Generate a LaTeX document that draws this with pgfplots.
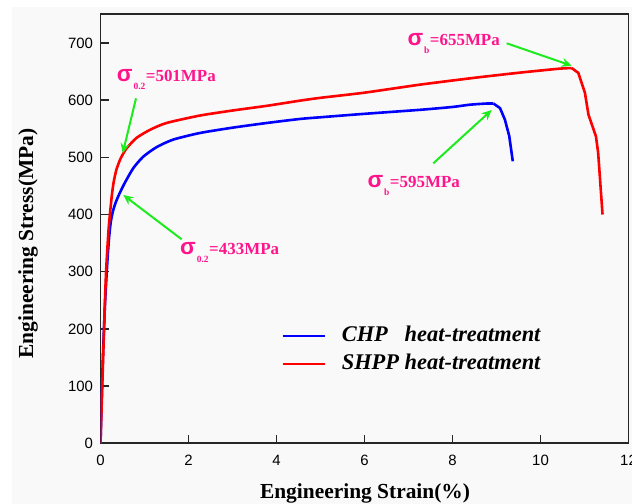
\documentclass[border=0pt]{standalone}
\usepackage{fontspec}
\setmainfont{Liberation Serif}
\newfontfamily\arialfont{Liberation Sans}
\usepackage{calc}
\usepackage{pgfplots}
\pgfplotsset{compat=1.18}
\usetikzlibrary{arrows.meta}
\definecolor{annot}{RGB}{255,20,140}
\definecolor{arr}{RGB}{30,235,30}
\definecolor{bg}{RGB}{249,249,249}
\definecolor{cblue}{RGB}{0,0,255}
\definecolor{cred}{RGB}{255,0,0}
\newcommand\sig[2]{\textcolor{annot}{\bfseries{\arialfont\bfseries\fontsize{23}{23}\selectfont σ}\hspace{1bp}\raisebox{-8bp}{\fontsize{9.5}{9.5}\selectfont #1}\hspace{0.5bp}{\fontsize{17}{17}\selectfont =#2MPa}}}

\pgfplotstableread{
x y
0 0
0.05 140
0.10 240
0.15 310
0.19 355
0.23 385
0.28 405
0.35 422
0.44 438
0.557 456
0.745 481
0.97 501
1.28 518
1.655 531
2.26 542.5
3.02 552
3.78 560
4.53 567
5.0 570
6.0 576
7.26 583
8.0 588
8.40 592
8.78 594
8.93 594
}\chpa
\pgfplotstableread{
x y
8.93 594
9.08 586
9.19 566
9.29 537
9.37 493
}\chpb

\pgfplotstableread{
x y
0 0
0.04 99
0.08 198
0.125 297
0.18 370
0.22 405
0.26 435
0.30 457
0.36 478
0.44 495
0.52 507
0.595 516
0.82 534
1.125 548
1.50 560
2.26 573
3.02 582
3.78 590
4.53 599
5.0 604
6.0 613
7.26 627
8.5 639
9.53 648
10.44 655
10.71 656
}\shppa
\pgfplotstableread{
x y
10.71 656
10.86 647.5
11.01 612.5
11.09 574.5
11.26 536.6
11.31 508
11.41 400
}\shppb

\begin{document}
\begin{tikzpicture}
\useasboundingbox (0,0) rectangle (632bp,504bp);
\fill[bg] (12bp,0) rectangle (632bp,497bp);
\begin{axis}[
  at={(100.5bp,60.7bp)}, anchor=south west,
  scale only axis, width=528bp, height=429bp,
  xmin=0, xmax=12, ymin=0, ymax=750,
  xtick={0,2,...,12}, ytick={0,100,...,700},
  tick pos=left, tick align=inside, major tick length=8bp,
  axis line style={line width=1.6bp, color=black!85},
  every tick/.style={line width=1.4bp, black!85},
  tick label style={font=\arialfont\fontsize{15}{15}\selectfont},
  /pgf/number format/assume math mode=true,
  xticklabel style={yshift=-8bp},
  yticklabel style={xshift=-4bp},
  xlabel={Engineering Strain(\%)},
  ylabel={Engineering Stress(MPa)},
  label style={font=\bfseries\fontsize{21.5}{21.5}\selectfont},
  xlabel style={at={(rel axis cs:0.501,-0.1298)}, anchor=base},
  ylabel style={at={(rel axis cs:-0.1373,0.4657)}, anchor=center},
  legend image code/.code={\draw[#1] (0bp,3.5bp) -- (42bp,3.5bp);},
  legend style={at={(rel axis cs:0.3419,0.2755)}, anchor=north west,
    draw=none, fill=none, inner sep=0pt, column sep=16bp, row sep=0pt,
    font=\bfseries\itshape\fontsize{22.5}{22.5}\selectfont,
    nodes={inner sep=0pt, text height=16bp, text depth=12bp}},
  legend cell align=left,
]
\addplot[cblue, line width=2.6bp, line join=round, smooth, tension=0.4] table[x=x,y=y] {\chpa};
\addlegendentry{\makebox[\widthof{SHPP}][l]{CHP} heat-treatment}
\addplot[cblue, line width=2.6bp, line join=round, forget plot] table[x=x,y=y] {\chpb};
\addplot[cred, line width=2.6bp, line join=round, smooth, tension=0.4] table[x=x,y=y] {\shppa};
\addlegendentry{SHPP heat-treatment}
\addplot[cred, line width=2.6bp, line join=round, forget plot] table[x=x,y=y] {\shppb};

\draw[arr, line width=2bp, -{Stealth[length=10bp,width=9bp]}] (axis cs:0.807,603.1) -- (axis cs:0.505,507.0);
\draw[arr, line width=2bp, -{Stealth[length=10bp,width=9bp]}] (axis cs:1.845,356.6) -- (axis cs:0.518,434.1);
\draw[arr, line width=2bp, -{Stealth[length=10bp,width=9bp]}] (axis cs:9.232,699.3) -- (axis cs:10.709,660.1);
\draw[arr, line width=2bp, -{Stealth[length=10bp,width=9bp]}] (axis cs:7.564,489.5) -- (axis cs:8.891,582.7);

\node[anchor=base west, inner sep=0pt] at (axis cs:0.368,632.2) {\sig{0.2}{501}};
\node[anchor=base west, inner sep=0pt] at (axis cs:1.807,329.2) {\sig{0.2}{433}};
\node[anchor=base west, inner sep=0pt] at (axis cs:6.064,447.6) {\sig{b}{595}};
\node[anchor=base west, inner sep=0pt] at (axis cs:6.973,695.1) {\sig{b}{655}};
\end{axis}
\end{tikzpicture}
\end{document}
